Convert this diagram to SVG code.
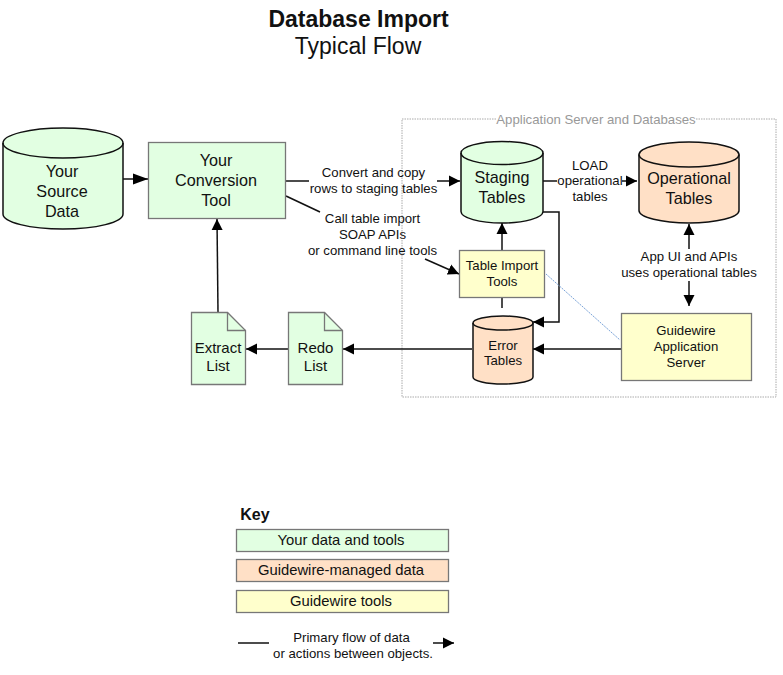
<svg xmlns="http://www.w3.org/2000/svg" width="783" height="675" viewBox="0 0 783 675">
<style>
text{font-family:"Liberation Sans",Arial,sans-serif;fill:#111;text-anchor:middle}
.g{fill:#e2ffe2}.o{fill:#ffe0c6}.y{fill:#ffffcc}
.box{stroke:#777;stroke-width:1.3}
.cyl{stroke:#111;stroke-width:1.5}
.f16{font-size:16.2px}.f13{font-size:13.2px}.f15{font-size:15px}.f14{font-size:14.8px}
.c{fill:none;stroke:#111;stroke-width:1.5}
</style>
<defs>
<marker id="a" markerUnits="userSpaceOnUse" markerWidth="12" markerHeight="12" refX="11" refY="6" orient="auto"><path d="M0,0.500L11,6L0,11.500Z" fill="#000"/></marker>
<marker id="b" markerUnits="userSpaceOnUse" markerWidth="16" markerHeight="12" refX="15" refY="6" orient="auto"><path d="M0,0.500L15,6L0,11.500Z" fill="#000"/></marker>
</defs>
<rect width="783" height="675" fill="#fff"/>
<g id="title"><text x="358.500" y="27" font-size="23" font-weight="bold">Database Import</text><text x="358" y="54" font-size="23">Typical Flow</text></g>
<g id="group-app"><path d="M496,119H402V397H776V119H696" fill="none" stroke="#aaa" stroke-width="1" stroke-dasharray="1.5 1"/><text x="596" y="124" font-size="13.2" style="fill:#999">Application Server and Databases</text></g>
<g id="connectors">
<path class="c" d="M123,179H148" marker-end="url(#b)"/>
<path class="c" d="M218,312L217,219" marker-end="url(#a)"/>
<path class="c" d="M289,349H246" marker-end="url(#a)"/>
<path class="c" d="M472,349L343,349" marker-end="url(#a)"/>
<path class="c" d="M285,181H309"/><path class="c" d="M437,181H460" marker-end="url(#a)"/>
<path class="c" d="M286,196L320,212"/><path class="c" d="M425,259L459,274" marker-end="url(#a)"/>
<path class="c" d="M502,250V223" marker-end="url(#a)"/>
<path class="c" d="M502,298V308"/>
<path class="c" d="M543,212H559V322H533" marker-end="url(#a)"/>
<path class="c" d="M543,181H557"/><path class="c" d="M622,181H637" marker-end="url(#a)"/>
<path class="c" d="M689,249V224" marker-end="url(#a)"/><path class="c" d="M689,281V306" marker-end="url(#a)"/>
<path class="c" d="M625,349H533" marker-end="url(#a)"/>
<path d="M546,274L620,340" fill="none" stroke="#7aa3d8" stroke-width="1" stroke-dasharray="2 1"/>
</g>
<g id="source"><path class="g cyl" d="M3,143V214A60,15 0 0 0 123,214V143A60,15 0 0 0 3,143Z"/><path class="cyl" fill="none" d="M3,143A60,15 0 0 0 123,143"/><text class="f16" x="62" y="177">Your</text><text class="f16" x="62" y="197">Source</text><text class="f16" x="62" y="217">Data</text></g>
<g id="conversion"><rect class="g box" x="148.500" y="142.500" width="137" height="76"/><text class="f16" x="216" y="166">Your</text><text class="f16" x="216" y="186">Conversion</text><text class="f16" x="216" y="206">Tool</text></g>
<g id="staging"><path class="g cyl" d="M461,153V211.500A41,11.500 0 0 0 543,211.500V153A41,11.500 0 0 0 461,153Z"/><path class="cyl" fill="none" d="M461,153A41,11.500 0 0 0 543,153"/><text class="f16" x="502" y="183">Staging</text><text class="f16" x="502" y="203">Tables</text></g>
<g id="operational"><path class="o cyl" d="M639,154.500V210.500A50,12.500 0 0 0 739,210.500V154.500A50,12.500 0 0 0 639,154.500Z"/><path class="cyl" fill="none" d="M639,154.500A50,12.500 0 0 0 739,154.500"/><text class="f16" x="689" y="184">Operational</text><text class="f16" x="689" y="204">Tables</text></g>
<g id="import"><rect class="y box" x="459.500" y="250.500" width="85" height="47"/><text class="f13" x="502" y="270">Table Import</text><text class="f13" x="502" y="286">Tools</text></g>
<g id="error"><path class="o cyl" d="M473,323V377A30,7 0 0 0 533,377V323A30,7 0 0 0 473,323Z"/><path class="cyl" fill="none" d="M473,323A30,7 0 0 0 533,323"/><text class="f13" x="503" y="350">Error</text><text class="f13" x="503" y="365">Tables</text></g>
<g id="server"><rect class="y box" x="621.500" y="313.500" width="130" height="67"/><text class="f13" x="686" y="335">Guidewire</text><text class="f13" x="686" y="351">Application</text><text class="f13" x="686" y="367">Server</text></g>
<g id="extract"><path class="g box" d="M191.500,312.500H227.500L245.500,330.500V384.500H191.500Z"/><path class="box" fill="none" d="M227.500,312.500V330.500H245.500"/><text class="f15" x="218" y="353">Extract</text><text class="f15" x="218" y="371">List</text></g>
<g id="redo"><path class="g box" d="M288.500,312.500H324.500L342.500,330.500V384.500H288.500Z"/><path class="box" fill="none" d="M324.500,312.500V330.500H342.500"/><text class="f15" x="315.500" y="353">Redo</text><text class="f15" x="315.500" y="371">List</text></g>
<g id="labels">
<text class="f13" x="373.500" y="177">Convert and copy</text><text class="f13" x="373.500" y="193">rows to staging tables</text>
<text class="f13" x="372.500" y="223">Call table import</text><text class="f13" x="372.500" y="239">SOAP APIs</text><text class="f13" x="372.500" y="255">or command line tools</text>
<text class="f13" x="590" y="170">LOAD</text><text class="f13" x="590" y="185">operational</text><text class="f13" x="590" y="201">tables</text>
<text class="f13" x="689" y="261">App UI and APIs</text><text class="f13" x="689" y="277">uses operational tables</text>
</g>
<g id="key">
<text x="255" y="520" font-size="16" font-weight="bold">Key</text>
<rect class="g box" x="236.500" y="529.500" width="212" height="22"/><text class="f14" x="341" y="545">Your data and tools</text>
<rect class="o box" x="236.500" y="559.500" width="212" height="22"/><text class="f14" x="341" y="575">Guidewire-managed data</text>
<rect class="y box" x="236.500" y="590.500" width="212" height="22"/><text class="f14" x="341" y="606">Guidewire tools</text>
<path class="c" d="M238,643H269"/><path class="c" d="M433,643H454" marker-end="url(#a)"/>
<text class="f13" x="351.500" y="642">Primary flow of data</text><text class="f13" x="353" y="658">or actions between objects.</text>
</g>
</svg>
